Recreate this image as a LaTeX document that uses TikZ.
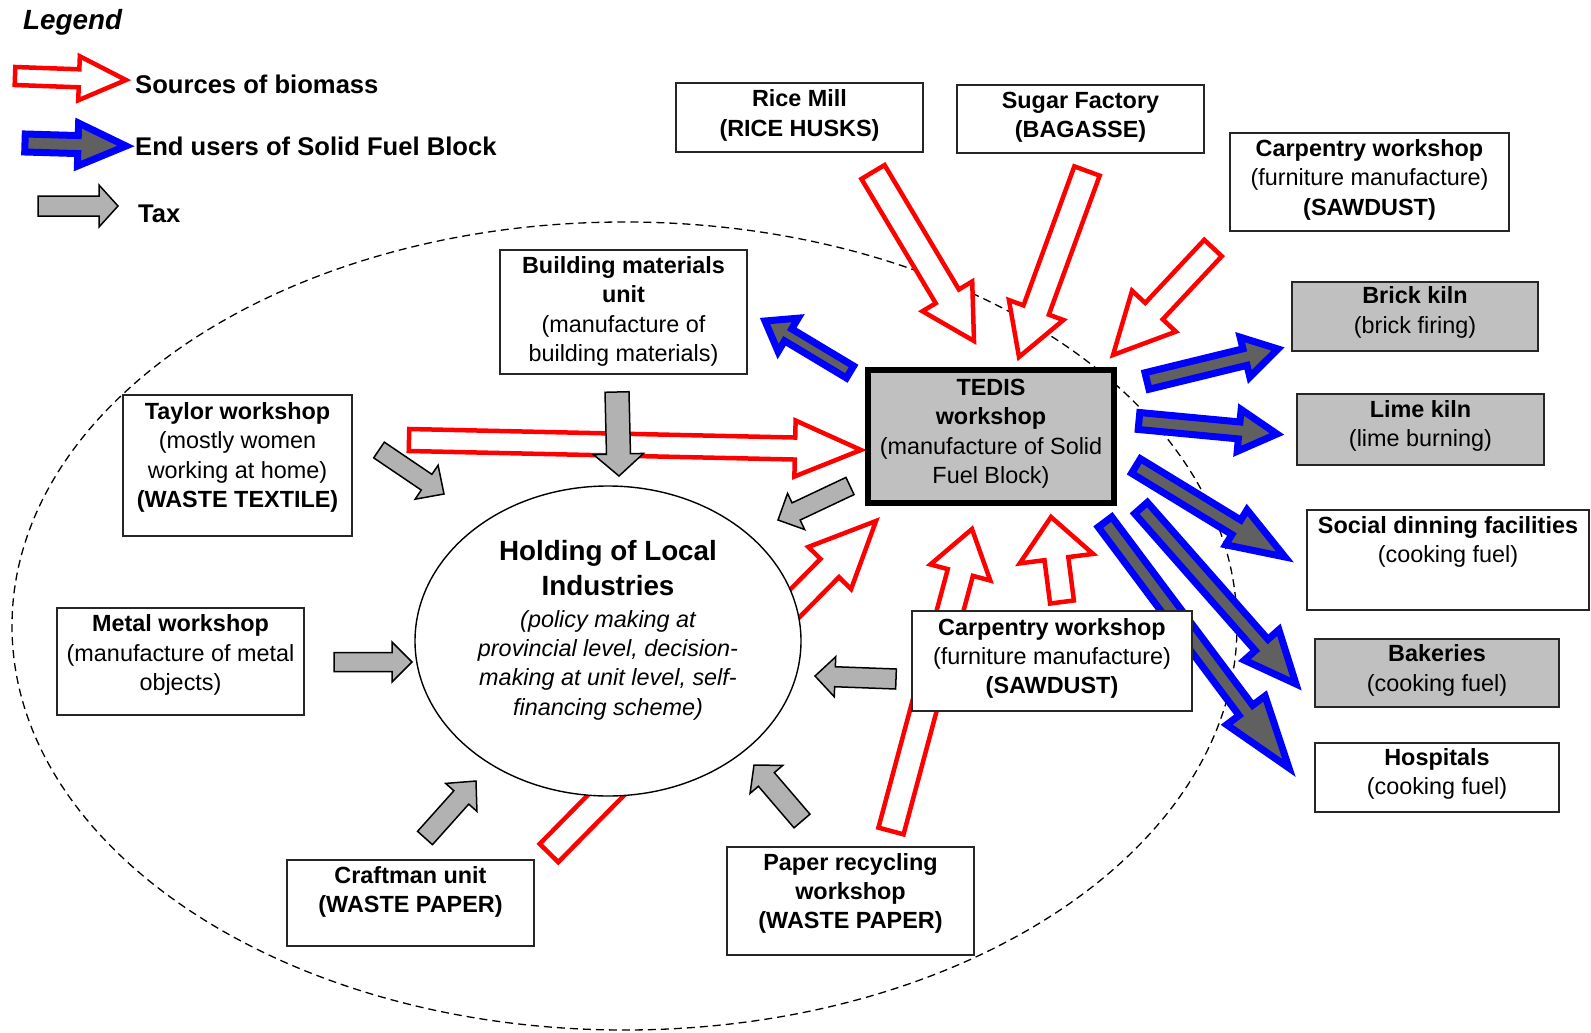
\documentclass[tikz,border=0pt]{standalone}
\usepackage{fontspec}
\setmainfont{Liberation Sans}
\usetikzlibrary{shapes.geometric}
\definecolor{boxgray}{RGB}{192,192,192}
\definecolor{darkfill}{RGB}{96,96,96}
\definecolor{taxfill}{RGB}{178,178,178}
\newdimen\arAx \newdimen\arAy \newdimen\arBx \newdimen\arBy
% #1 style, #2 tail coordinate, #3 tip coordinate, #4 shaft half width, #5 head half width, #6 head length
\newcommand{\blockarrow}[6]{%
  \pgfextractx{\arAx}{\pgfpointanchor{#2}{center}}%
  \pgfextracty{\arAy}{\pgfpointanchor{#2}{center}}%
  \pgfextractx{\arBx}{\pgfpointanchor{#3}{center}}%
  \pgfextracty{\arBy}{\pgfpointanchor{#3}{center}}%
  \pgfmathsetmacro\arDx{\arBx-\arAx}%
  \pgfmathsetmacro\arDy{\arBy-\arAy}%
  \pgfmathsetmacro\arLen{veclen(\arDx,\arDy)}%
  \pgfmathsetmacro\arAng{atan2(\arDy,\arDx)}%
  \pgfmathsetmacro\arS{\arLen-#6}%
  \draw[#1,shift={(\the\arAx,\the\arAy)},rotate=\arAng]
    (0pt,-#4pt) -- (\arS pt,-#4pt) -- (\arS pt,-#5pt) -- (\arLen pt,0pt)
    -- (\arS pt,#5pt) -- (\arS pt,#4pt) -- (0pt,#4pt) -- cycle;}
\begin{document}
\begin{tikzpicture}[x=1pt,y=-1pt,
  box/.style={draw=black!85,line width=1.4pt,fill=white,inner sep=0pt,rectangle},
  graybox/.style={box,fill=boxgray},
  txt/.style={anchor=north,inner sep=0pt,align=center,font=\fontsize{23.4}{29.3}\selectfont},
  legtxt/.style={anchor=base west,inner sep=0pt,font=\fontsize{25.6}{30}\selectfont\bfseries},
  redarr/.style={draw=red,line width=4.5pt,fill=white,line join=miter},
  bluearr/.style={draw=blue,line width=7pt,fill=darkfill,line join=miter},
  taxarr/.style={draw=black,line width=1.5pt,fill=taxfill,line join=miter}]
\useasboundingbox (0,0) rectangle (1591,1033);

% region
\node[ellipse,draw,dashed,dash pattern=on 8pt off 5pt,line width=1.3pt,inner sep=0pt,
  minimum width=1225pt,minimum height=808pt] (region) at (624.5,626) {};

% coordinates for arrows
\coordinate (rRiceS) at (873,172);   \coordinate (rRiceE) at (974,341);
\coordinate (rSugS) at (1087,171);   \coordinate (rSugE) at (1019,357);
\coordinate (rCarpS) at (1213,248);  \coordinate (rCarpE) at (1113,355);
\coordinate (rTayS) at (409,440);    \coordinate (rTayE) at (861,450);
\coordinate (rCraftS) at (549,853);  \coordinate (rCraftE) at (876,521);
\coordinate (rPapS) at (891,831);    \coordinate (rPapE) at (972,529);
\coordinate (rCarpLS) at (1062,602); \coordinate (rCarpLE) at (1051,517);

\coordinate (bBuildS) at (850,372);  \coordinate (bBuildE) at (765,321);
\coordinate (bBrickS) at (1147,381); \coordinate (bBrickE) at (1278,349);
\coordinate (bLimeS) at (1139,421);  \coordinate (bLimeE) at (1277,434);
\coordinate (bSocS) at (1136,466);   \coordinate (bSocE) at (1285,557);
\coordinate (bBakeS) at (1141,508);  \coordinate (bBakeE) at (1296,684);
\coordinate (bHospS) at (1105,522);  \coordinate (bHospE) at (1289,768);

\coordinate (tBuildS) at (617,392);  \coordinate (tBuildE) at (619,476);
\coordinate (tTayS) at (379,450);    \coordinate (tTayE) at (444,494);
\coordinate (tMetS) at (334,662);    \coordinate (tMetE) at (412,662);
\coordinate (tTedS) at (850,486);    \coordinate (tTedE) at (778,520);
\coordinate (tCarpS) at (896,679);   \coordinate (tCarpE) at (815,676);
\coordinate (tCraftS) at (425,838);  \coordinate (tCraftE) at (476,781);
\coordinate (tPapS) at (802,821);    \coordinate (tPapE) at (754,765);

\coordinate (lRedS) at (15,76);   \coordinate (lRedE) at (126,80);
\coordinate (lBlueS) at (25,143); \coordinate (lBlueE) at (126,146);
\coordinate (lTaxS) at (38,206);  \coordinate (lTaxE) at (118,206);

% sources of biomass
\blockarrow{redarr}{rRiceS}{rRiceE}{13.5}{29}{52}
\blockarrow{redarr}{rSugS}{rSugE}{13.5}{29}{50}
\blockarrow{redarr}{rCarpS}{rCarpE}{12}{30}{60}
\blockarrow{redarr}{rTayS}{rTayE}{11}{28}{66}
\blockarrow{redarr}{rCraftS}{rCraftE}{13}{30}{66}
\blockarrow{redarr}{rPapS}{rPapE}{13}{31}{45}
\blockarrow{redarr}{rCarpLS}{rCarpLE}{12}{37}{42}

% end users
\blockarrow{bluearr}{bBuildS}{bBuildE}{7}{19.5}{27}
\blockarrow{bluearr}{bBrickS}{bBrickE}{8.5}{20.5}{34}
\blockarrow{bluearr}{bLimeS}{bLimeE}{8.5}{21}{38}
\blockarrow{bluearr}{bSocS}{bSocE}{8.5}{20.5}{57}
\blockarrow{bluearr}{bBakeS}{bBakeE}{8.5}{23}{52}
\blockarrow{bluearr}{bHospS}{bHospE}{8.5}{24}{72}

% holding
\node[ellipse,draw,line width=1.4pt,fill=white,inner sep=0pt,
  minimum width=386pt,minimum height=310pt] (hold) at (608,641) {};
\node[anchor=north,inner sep=0pt,align=center,font=\fontsize{27.8}{35}\selectfont\bfseries]
  (holdt) at (608,539.7) {Holding of Local\\Industries};
\node[txt,font=\fontsize{23.4}{29.3}\selectfont\itshape] (holds) at (608,610)
  {(policy making at\\provincial level, decision-\\making at unit level, self-\\financing scheme)};

% boxes
\node[box,minimum width=247pt,minimum height=69pt] (rice) at (799.5,117.5) {};
\node[txt] (ricet) at (799.5,89.8) {\textbf{Rice Mill}\\\textbf{(RICE HUSKS)}};

\node[box,minimum width=247pt,minimum height=68pt] (sugar) at (1080.5,119) {};
\node[txt] (sugart) at (1080.5,91.9) {\textbf{Sugar Factory}\\\textbf{(BAGASSE)}};

\node[box,minimum width=279pt,minimum height=98pt] (carp) at (1369.5,182) {};
\node[txt] (carpt) at (1369.5,139.4) {\textbf{Carpentry workshop}\\(furniture manufacture)\\\textbf{(SAWDUST)}};

\node[graybox,minimum width=246pt,minimum height=69pt] (brick) at (1415,316.5) {};
\node[txt] (brickt) at (1415,286.8) {\textbf{Brick kiln}\\(brick firing)};

\node[graybox,minimum width=247pt,minimum height=71pt] (lime) at (1420.5,429.5) {};
\node[txt] (limet) at (1420.5,400.3) {\textbf{Lime kiln}\\(lime burning)};

\node[box,minimum width=282pt,minimum height=100pt] (social) at (1448,560) {};
\node[txt] (socialt) at (1448,516.3) {\textbf{Social dinning facilities}\\(cooking fuel)};

\node[graybox,minimum width=244pt,minimum height=68pt] (bake) at (1437,673) {};
\node[txt] (baket) at (1437,644.7) {\textbf{Bakeries}\\(cooking fuel)};

\node[box,minimum width=244pt,minimum height=69pt] (hosp) at (1437,777.5) {};
\node[txt] (hospt) at (1437,748) {\textbf{Hospitals}\\(cooking fuel)};

\node[graybox,draw=black,line width=6pt,minimum width=246pt,minimum height=133pt] (tedis) at (991,436.5) {};
\node[txt] (tedist) at (991,379) {\textbf{TEDIS}\\\textbf{workshop}\\(manufacture of Solid\\Fuel Block)};

\node[box,minimum width=247pt,minimum height=124pt] (build) at (623.5,312) {};
\node[txt] (buildt) at (623.5,256.3) {\textbf{Building materials}\\\textbf{unit}\\(manufacture of\\building materials)};

\node[box,minimum width=229pt,minimum height=141pt] (taylor) at (237.5,465.5) {};
\node[txt] (taylort) at (237.5,402.3) {\textbf{Taylor workshop}\\(mostly women\\working at home)\\\textbf{(WASTE TEXTILE)}};

\node[box,minimum width=247pt,minimum height=107pt] (metal) at (180.5,661.5) {};
\node[txt] (metalt) at (180.5,614.7) {\textbf{Metal workshop}\\(manufacture of metal\\objects)};

\node[box,minimum width=247pt,minimum height=86pt] (craft) at (410.5,903) {};
\node[txt] (craftt) at (410.5,866.3) {\textbf{Craftman unit}\\\textbf{(WASTE PAPER)}};

\node[box,minimum width=247pt,minimum height=108pt] (paper) at (850.5,901) {};
\node[txt] (papert) at (850.5,853) {\textbf{Paper recycling}\\\textbf{workshop}\\\textbf{(WASTE PAPER)}};

\node[box,minimum width=280pt,minimum height=100pt] (carpl) at (1052,661) {};
\node[txt] (carplt) at (1052,618) {\textbf{Carpentry workshop}\\(furniture manufacture)\\\textbf{(SAWDUST)}};

% tax
\blockarrow{taxarr}{tBuildS}{tBuildE}{12}{25}{22}
\blockarrow{taxarr}{tTayS}{tTayE}{9.5}{20.5}{21}
\blockarrow{taxarr}{tMetS}{tMetE}{9.5}{20}{20}
\blockarrow{taxarr}{tTedS}{tTedE}{9.5}{20}{20}
\blockarrow{taxarr}{tCarpS}{tCarpE}{10}{20}{20}
\blockarrow{taxarr}{tCraftS}{tCraftE}{10}{21}{22}
\blockarrow{taxarr}{tPapS}{tPapE}{10.5}{21.5}{19}

% legend
\node[legtxt,font=\fontsize{27.8}{32}\selectfont\bfseries\itshape] (legend) at (23,30) {Legend};
\blockarrow{redarr}{lRedS}{lRedE}{9}{22}{47}
\blockarrow{bluearr}{lBlueS}{lBlueE}{9}{21.5}{48}
\blockarrow{taxarr}{lTaxS}{lTaxE}{10}{21}{19}
\node[legtxt] (legsrc) at (135,93) {Sources of biomass};
\node[legtxt] (legend2) at (135,155) {End users of Solid Fuel Block};
\node[legtxt] (legtax) at (138,222) {Tax};
\end{tikzpicture}
\end{document}
